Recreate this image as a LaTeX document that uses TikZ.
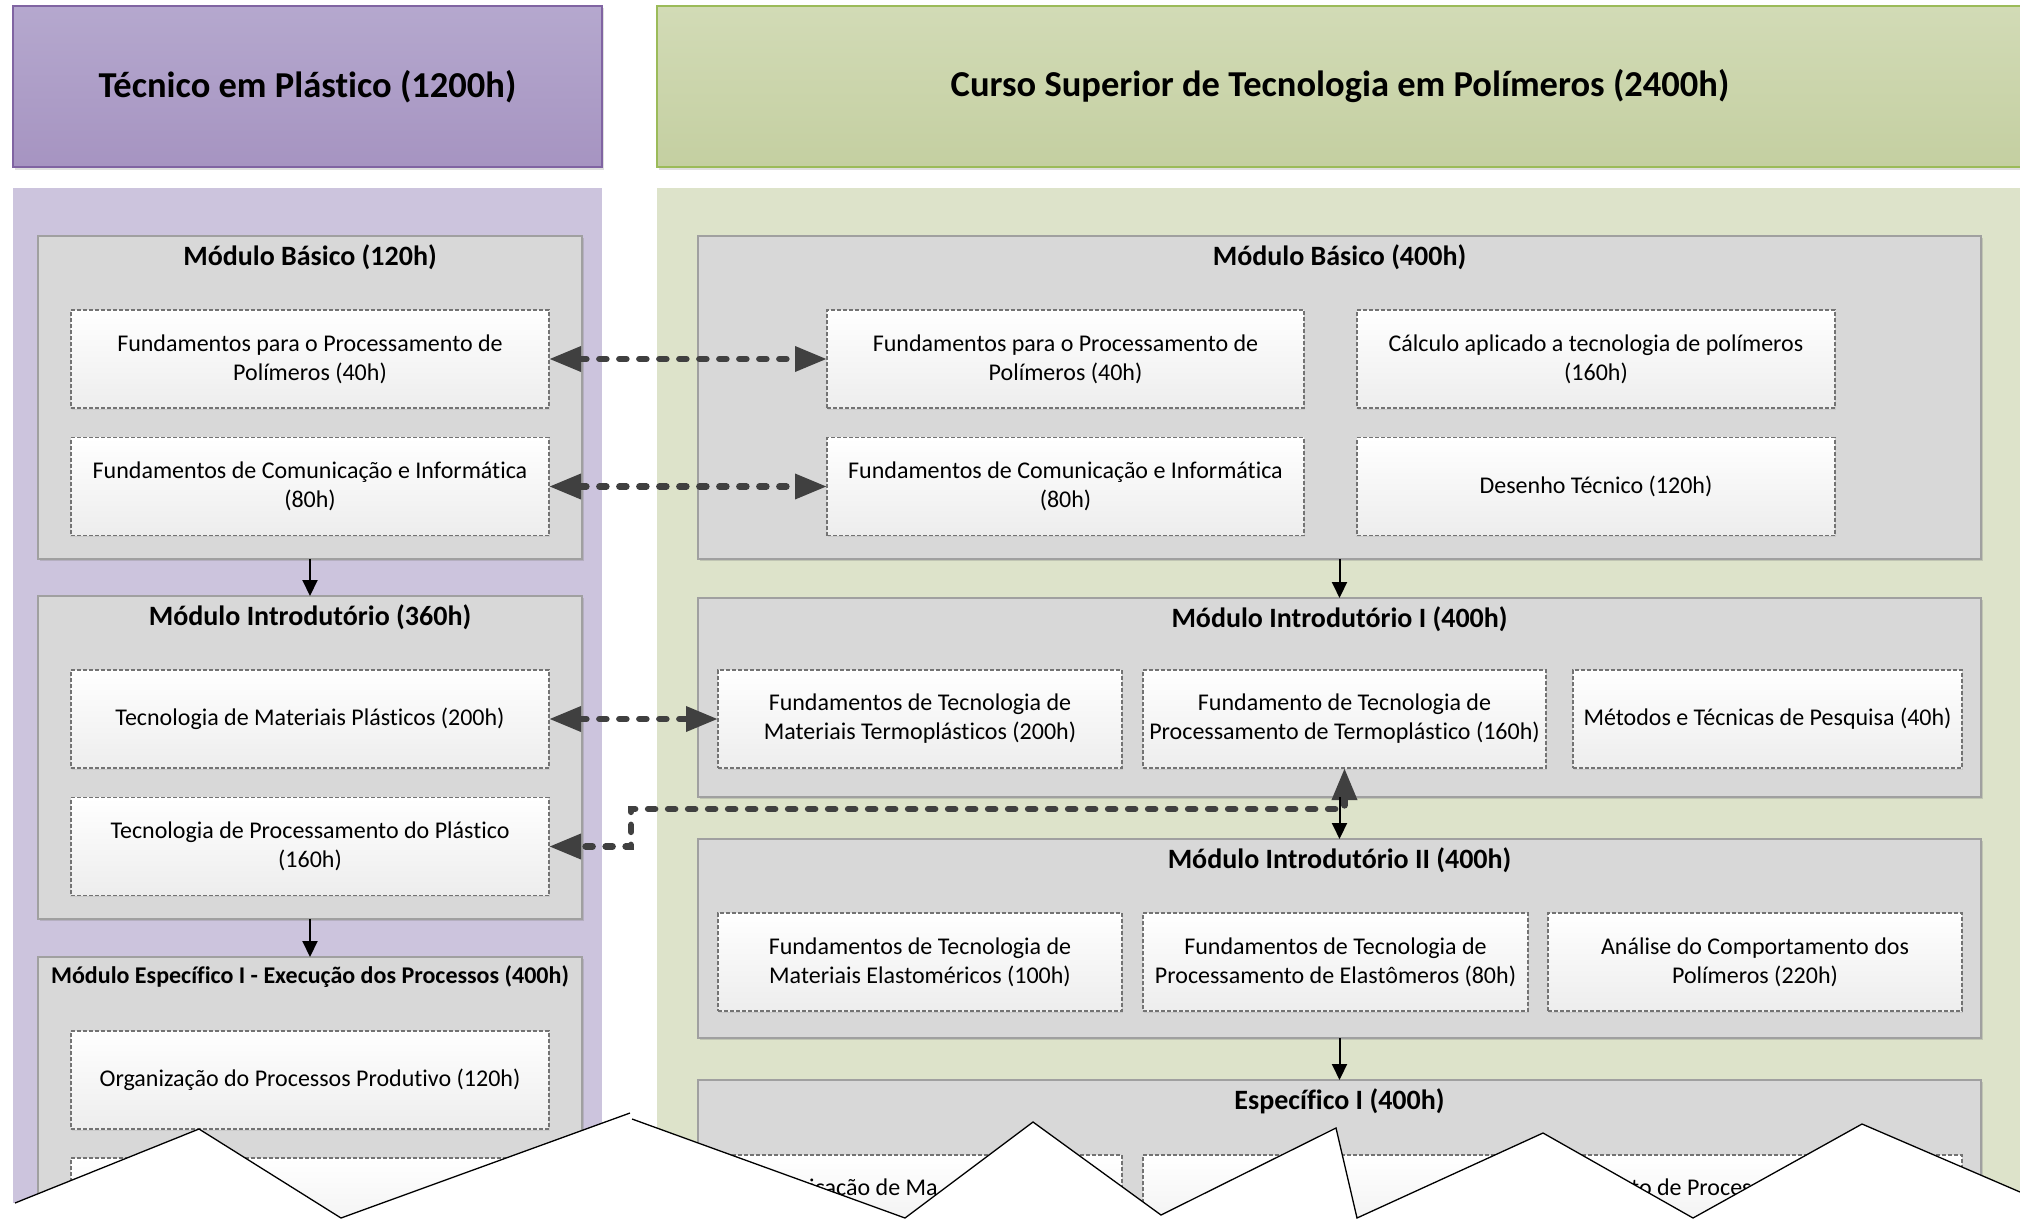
\documentclass[tikz,border=0pt]{standalone}
\usepackage{fontspec}
\setmainfont{Carlito}[Ligatures={NoCommon}]
\usetikzlibrary{arrows.meta,shadows}
\definecolor{hdrLa}{RGB}{181,168,206}
\definecolor{hdrLb}{RGB}{166,148,193}
\definecolor{hdrLline}{RGB}{128,100,162}
\definecolor{hdrRa}{RGB}{210,219,182}
\definecolor{hdrRb}{RGB}{196,207,161}
\definecolor{hdrRline}{RGB}{155,187,89}
\definecolor{panelL}{RGB}{204,196,221}
\definecolor{panelR}{RGB}{221,227,202}
\definecolor{modgray}{RGB}{216,216,216}
\definecolor{modline}{RGB}{160,160,160}
\definecolor{boxbot}{RGB}{237,237,237}
\definecolor{dashgray}{RGB}{115,115,115}
\definecolor{arrgray}{RGB}{64,64,64}
\begin{document}
\begin{tikzpicture}[x=1pt,y=-1pt,
  hdrL/.style={draw=hdrLline, line width=1.3pt, top color=hdrLa, bottom color=hdrLb,
    inner sep=0pt, outer sep=0pt, font=\fontsize{36.5pt}{40pt}\selectfont\bfseries,
    drop shadow={shadow xshift=1.5pt, shadow yshift=-2.5pt, opacity=0.25}},
  hdrR/.style={hdrL, draw=hdrRline, top color=hdrRa, bottom color=hdrRb},
  module/.style={draw=modline, line width=1.6pt, fill=modgray, inner sep=0pt, outer sep=0pt,
    drop shadow={shadow xshift=1.5pt, shadow yshift=-2pt, opacity=0.3}},
  modtitle/.style={font=\fontsize{28pt}{30pt}\selectfont\bfseries, inner sep=0pt},
  item/.style={draw=dashgray, line width=1.1pt, dash pattern=on 4pt off 2pt,
    top color=white, bottom color=boxbot, inner sep=0pt, outer sep=0pt, align=center,
    font=\fontsize{24pt}{29pt}\selectfont,
    drop shadow={shadow xshift=1pt, shadow yshift=-1.5pt, opacity=0.15}},
  solidarr/.style={draw=black, line width=2pt, -{Triangle[length=16pt,width=15pt]}},
  dotarr/.style={draw=arrgray, line width=6.5pt, line cap=round, dash pattern=on 7pt off 13pt,
    {Triangle[length=32pt,width=24pt]}-{Triangle[length=32pt,width=24pt]}},
  tear/.style={draw=black, line width=1.3pt, line join=miter},
  frag/.style={font=\fontsize{24pt}{29pt}\selectfont, inner sep=0pt, anchor=base west}
]
\useasboundingbox (0,0) rectangle (2020,1220);
\fill[white] (0,0) rectangle (2020,1220);

% headers
\node[hdrL, minimum width=589pt, minimum height=161pt] (hL) at (307.5,86.5) {Técnico em Plástico (1200h)};
\node[hdrR, minimum width=1366pt, minimum height=161pt] (hR) at (1340,86.5) {Curso Superior de Tecnologia em Polímeros (2400h)};

% panels
\fill[panelL] (13,188) rectangle (602,1240);
\fill[panelR] (657,188) rectangle (2040,1240);

% left modules
\node[module, minimum width=544pt, minimum height=323pt] (mbL) at (310,397.5) {};
\node[modtitle] (mbLt) at (310,257) {Módulo Básico (120h)};
\node[module, minimum width=544pt, minimum height=323pt] (miL) at (310,757.5) {};
\node[modtitle] (miLt) at (310,617) {Módulo Introdutório (360h)};
\node[module, minimum width=544pt, minimum height=300pt] (meL) at (310,1107) {};
\node[modtitle, font=\fontsize{24pt}{26pt}\selectfont\bfseries] (meLt) at (310,977) {Módulo Específico I - Execução dos Processos (400h)};

% right modules
\node[module, minimum width=1283pt, minimum height=323pt] (mbR) at (1339.5,397.5) {};
\node[modtitle] (mbRt) at (1339.5,257) {Módulo Básico (400h)};
\node[module, minimum width=1283pt, minimum height=199pt] (mi1R) at (1339.5,697.5) {};
\node[modtitle] (mi1Rt) at (1339.5,619) {Módulo Introdutório I (400h)};
\node[module, minimum width=1283pt, minimum height=199pt] (mi2R) at (1339.5,938.5) {};
\node[modtitle] (mi2Rt) at (1339.5,860) {Módulo Introdutório II (400h)};
\node[module, minimum width=1283pt, minimum height=180pt] (esR) at (1339.5,1170) {};
\node[modtitle] (esRt) at (1339.5,1101) {Específico I (400h)};

% left items
\node[item, minimum width=478pt, minimum height=98pt] (fpL) at (310,359) {Fundamentos para o Processamento de\\Polímeros (40h)};
\node[item, minimum width=478pt, minimum height=98pt] (fcL) at (310,486.5) {Fundamentos de Comunicação e Informática\\(80h)};
\node[item, minimum width=478pt, minimum height=98pt] (tmL) at (310,719) {Tecnologia de Materiais Plásticos (200h)};
\node[item, minimum width=478pt, minimum height=98pt] (tpL) at (310,846.5) {Tecnologia de Processamento do Plástico\\(160h)};
\node[item, minimum width=478pt, minimum height=98pt] (opL) at (310,1080) {Organização do Processos Produtivo (120h)};
\node[item, minimum width=478pt, minimum height=98pt] (xL) at (310,1207) {};

% right items, basic
\node[item, minimum width=477pt, minimum height=98pt] (fpR) at (1065.5,359) {Fundamentos para o Processamento de\\Polímeros (40h)};
\node[item, minimum width=478pt, minimum height=98pt] (caR) at (1596,359) {Cálculo aplicado a tecnologia de polímeros\\(160h)};
\node[item, minimum width=477pt, minimum height=98pt] (fcR) at (1065.5,486.5) {Fundamentos de Comunicação e Informática\\(80h)};
\node[item, minimum width=478pt, minimum height=98pt] (dtR) at (1596,486.5) {Desenho Técnico (120h)};
% intro I
\node[item, minimum width=404pt, minimum height=98pt] (fmtR) at (920,719) {Fundamentos de Tecnologia de\\Materiais Termoplásticos (200h)};
\node[item, minimum width=403pt, minimum height=98pt] (ftpR) at (1344.5,719) {Fundamento de Tecnologia de\\Processamento de Termoplástico (160h)};
\node[item, minimum width=389pt, minimum height=98pt] (mtpR) at (1767.5,719) {Métodos e Técnicas de Pesquisa (40h)};
% intro II
\node[item, minimum width=404pt, minimum height=98pt] (fmeR) at (920,962) {Fundamentos de Tecnologia de\\Materiais Elastoméricos (100h)};
\node[item, minimum width=385pt, minimum height=98pt] (fpeR) at (1335.5,962) {Fundamentos de Tecnologia de\\Processamento de Elastômeros (80h)};
\node[item, minimum width=414pt, minimum height=98pt] (acR) at (1755,962) {Análise do Comportamento dos\\Polímeros (220h)};
% especifico I
\node[item, minimum width=404pt, minimum height=98pt] (e1R) at (920,1204) {};
\node[item, minimum width=385pt, minimum height=98pt] (e2R) at (1335.5,1204) {};
\node[item, minimum width=414pt, minimum height=98pt] (e3R) at (1755,1204) {};
\node[frag] (f1) at (809,1195) {icação de Ma};
\node[frag] (f2) at (1631,1195) {to de Proces};

% dotted connectors
\draw[dotarr] (fpL.east) -- (fpR.west);
\draw[dotarr] (fcL.east) -- (fcR.west);
\draw[dotarr] (tmL.east) -- (fmtR.west);
\coordinate (bend) at (631,809);
\draw[dotarr] (ftpR.south) -- (ftpR.south |- bend) -- (bend) -- (bend |- tpL.east) -- (tpL.east);

% solid arrows
\draw[solidarr] (mbL.south) -- (miL.north);
\draw[solidarr] (miL.south) -- (meL.north);
\draw[solidarr] (mbR.south) -- (mi1R.north);
\draw[solidarr] (mi1R.south) -- (mi2R.north);
\draw[solidarr] (mi2R.south) -- (esR.north);

% torn edge
\fill[white] (0,1203) -- (15,1203) -- (199,1129) -- (341,1218) -- (630,1113) -- (632,1119)
  -- (905,1218) -- (1033,1122) -- (1161,1215) -- (1336,1128) -- (1357,1218) -- (1543,1133)
  -- (1693,1218) -- (1862,1124) -- (2020,1192) -- (2020,1220) -- (0,1220) -- cycle;
\draw[tear] (15,1203) -- (199,1129) -- (341,1218) -- (630,1113);
\draw[tear] (632,1119) -- (905,1218) -- (1033,1122) -- (1161,1215) -- (1336,1128) -- (1357,1218)
  -- (1543,1133) -- (1693,1218) -- (1862,1124) -- (2020,1192);
\end{tikzpicture}
\end{document}
